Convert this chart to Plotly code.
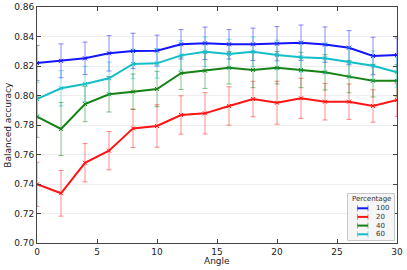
import plotly.graph_objects as go

angles = [0, 2, 4, 6, 8, 10, 12, 14, 16, 18, 20, 22, 24, 26, 28, 30]

acc_100 = [0.822, 0.8235, 0.8252, 0.8286, 0.8302, 0.8304, 0.8347, 0.8354, 0.8347, 0.8347,
           0.8351, 0.8358, 0.8345, 0.8324, 0.8268, 0.8275]
err_100 = [0.012, 0.0115, 0.011, 0.012, 0.012, 0.0105, 0.010, 0.011, 0.010, 0.011,
           0.0116, 0.012, 0.012, 0.0116, 0.0127, 0.0115]

acc_20 = [0.7398, 0.7337, 0.7544, 0.7626, 0.7777, 0.7793, 0.7868, 0.7879, 0.7929, 0.7976,
          0.7951, 0.7981, 0.7958, 0.7958, 0.7929, 0.7969]
err_20 = [0.015, 0.0155, 0.013, 0.013, 0.013, 0.0144, 0.013, 0.014, 0.013, 0.012,
          0.0146, 0.0136, 0.0124, 0.012, 0.011, 0.011]

acc_40 = [0.7856, 0.7773, 0.7942, 0.8008, 0.8026, 0.8044, 0.8151, 0.8168, 0.8188, 0.8173,
          0.8188, 0.8173, 0.8157, 0.8128, 0.8100, 0.8100]
err_40 = [0.014, 0.018, 0.012, 0.012, 0.012, 0.012, 0.011, 0.012, 0.011, 0.012,
          0.011, 0.012, 0.012, 0.011, 0.011, 0.011]

acc_60 = [0.7976, 0.8049, 0.8078, 0.8117, 0.8214, 0.8218, 0.8272, 0.8297, 0.8281, 0.8297,
          0.8275, 0.8259, 0.8252, 0.8225, 0.8202, 0.8157]
err_60 = [0.011, 0.012, 0.012, 0.011, 0.010, 0.010, 0.010, 0.010, 0.010, 0.010,
          0.010, 0.010, 0.010, 0.010, 0.010, 0.010]

legend_title = "Percentage"
series = [
    ("100", acc_100, err_100, "rgb(20,20,255)", "rgba(20,20,255,0.5)"),
    ("20", acc_20, err_20, "rgb(255,20,20)", "rgba(255,20,20,0.5)"),
    ("40", acc_40, err_40, "rgb(20,130,20)", "rgba(20,130,20,0.5)"),
    ("60", acc_60, err_60, "rgb(20,190,200)", "rgba(20,190,200,0.5)"),
]

W, H = 407, 270
L, R, T, B = 37, 10, 7, 27
X0, X1, Y0, Y1 = L, W - R, T, H - B


def px(x):
    return (x - X0) / (X1 - X0)


def py(y):
    return (Y1 - y) / (Y1 - Y0)


fig = go.Figure()
for name, y, e, col, ecol in series:
    fig.add_trace(go.Scatter(
        x=angles, y=y, name=name, mode="lines+markers", showlegend=False,
        line=dict(color=col, width=2),
        marker=dict(color=col, size=4, symbol="x-thin", line=dict(color=col, width=1)),
        error_y=dict(type="data", array=e, visible=True, color=ecol, thickness=1, width=2.5),
    ))

font = "DejaVu Sans, Arial, sans-serif"
shapes = []
annotations = []

# compact legend (matplotlib-like)
shapes.append(dict(type="rect", xref="paper", yref="paper",
                   x0=px(347.5), x1=px(394.5), y0=py(240.5), y1=py(193.5),
                   fillcolor="rgba(245,245,245,0.9)", line=dict(color="#c8c8c8", width=1)))
annotations.append(dict(text=legend_title, xref="paper", yref="paper", x=px(371), y=py(198.5),
                        showarrow=False, font=dict(size=7, family=font, color="#333"),
                        xanchor="center", yanchor="middle"))
ys = [208.3, 216.9, 225.6, 234.3]
for (name, _, _, col, ecol), yy in zip(series, ys):
    shapes.append(dict(type="line", xref="paper", yref="paper",
                       x0=px(357.5), x1=px(368), y0=py(yy), y1=py(yy),
                       line=dict(color=col, width=2)))
    for xx in (357.5, 368):
        shapes.append(dict(type="line", xref="paper", yref="paper",
                           x0=px(xx), x1=px(xx), y0=py(yy - 3), y1=py(yy + 3),
                           line=dict(color=ecol, width=1)))
    annotations.append(dict(text=name, xref="paper", yref="paper", x=px(374), y=py(yy),
                            showarrow=False, font=dict(size=7, family=font, color="#333"),
                            xanchor="left", yanchor="middle"))

annotations.append(dict(text="Angle", xref="paper", yref="paper", x=px(217), y=py(261),
                        showarrow=False, font=dict(size=9, family=font, color="#222"),
                        xanchor="center", yanchor="middle"))
annotations.append(dict(text="Balanced accuracy", xref="paper", yref="paper", x=px(7.7), y=py(125),
                        showarrow=False, textangle=-90, font=dict(size=9, family=font, color="#222"),
                        xanchor="center", yanchor="middle"))

fig.update_layout(
    width=W, height=H,
    margin=dict(l=L, r=R, t=T, b=B, autoexpand=False),
    paper_bgcolor="white", plot_bgcolor="white",
    font=dict(family=font, size=9, color="#222"),
    showlegend=False,
    shapes=shapes,
    annotations=annotations,
    xaxis=dict(
        range=[0, 30], tickvals=[0, 5, 10, 15, 20, 25, 30],
        showgrid=False, zeroline=False, automargin=False,
        showline=True, linecolor="#444", linewidth=1, mirror="ticks",
        ticks="inside", ticklen=4, tickcolor="#444",
        tickfont=dict(size=9),
    ),
    yaxis=dict(
        range=[0.70, 0.86], tickvals=[0.70, 0.72, 0.74, 0.76, 0.78, 0.80, 0.82, 0.84, 0.86],
        tickformat=".2f",
        showgrid=True, gridcolor="#eeeeee", gridwidth=1, zeroline=False, automargin=False,
        showline=True, linecolor="#444", linewidth=1, mirror="ticks",
        ticks="inside", ticklen=4, tickcolor="#444",
        tickfont=dict(size=9),
    ),
)

# remove the browser's default 8px body margin so the figure fills the window
fig.write_html("out.html", config={"displayModeBar": False},
               post_script="document.body.style.margin='0';")
